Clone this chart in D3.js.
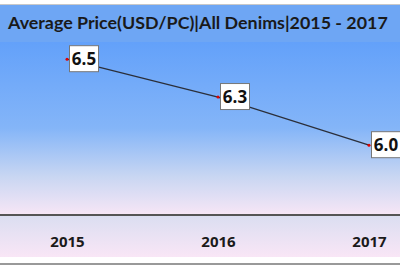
<!DOCTYPE html>
<html>
<head>
<meta charset="utf-8">
<script src="https://cdn.jsdelivr.net/npm/d3@7"></script>
<style>
  body { margin: 0; background: #fff; }
  svg { display: block; }
</style>
</head>
<body>
<div class="canvas"></div>
<script>
const years = ['2015', '2016', '2017'];
const prices = [6.5, 6.28, 6.0];
const title = 'Average Price(USD/PC)|All Denims|2015 - 2017';

const width = 400;
const height = 266;

const svg = d3
  .select('.canvas')
  .append('svg')
  .attr('width', width)
  .attr('height', height);

const defs = svg.append('defs');

// plot area gradient, blue to lavender pink
const plotGrad = defs
  .append('linearGradient')
  .attr('id', 'plotGrad')
  .attr('x1', 0).attr('x2', 0).attr('y1', 0).attr('y2', 1);
plotGrad.append('stop').attr('offset', '0%').attr('stop-color', '#63a1fa');
plotGrad.append('stop').attr('offset', '50%').attr('stop-color', '#84b5f8');
plotGrad.append('stop').attr('offset', '78%').attr('stop-color', '#c8d6f2');
plotGrad.append('stop').attr('offset', '100%').attr('stop-color', '#f6e6f6');

const axisGrad = defs
  .append('linearGradient')
  .attr('id', 'axisGrad')
  .attr('x1', 0).attr('x2', 0).attr('y1', 0).attr('y2', 1);
axisGrad.append('stop').attr('offset', '0%').attr('stop-color', '#dbdef1');
axisGrad.append('stop').attr('offset', '100%').attr('stop-color', '#f9e6f6');

//backgrounds
svg.append('line')
  .attr('x1', 0).attr('x2', width)
  .attr('y1', 4.5).attr('y2', 4.5)
  .attr('stroke', '#c8c8c8')
  .attr('stroke-width', 1);

svg.append('rect')
  .attr('x', 0).attr('y', 5)
  .attr('width', width).attr('height', 37)
  .attr('fill', '#6ea6f4');

svg.append('rect')
  .attr('x', 0).attr('y', 42)
  .attr('width', width).attr('height', 172)
  .attr('fill', 'url(#plotGrad)');

svg.append('rect')
  .attr('x', 0).attr('y', 216)
  .attr('width', width).attr('height', 41)
  .attr('fill', 'url(#axisGrad)');

svg.append('line')
  .attr('x1', 0).attr('x2', width)
  .attr('y1', 264).attr('y2', 264)
  .attr('stroke', '#999')
  .attr('stroke-width', 2);

//title, font size fitted so it spans about 380px
const titleText = svg.append('text')
  .attr('x', 8)
  .attr('y', 28.5)
  .attr('font-family', 'Lato, sans-serif')
  .attr('font-weight', 'bold')
  .attr('font-size', 18)
  .attr('fill', '#1a1a1a')
  .text(title);

const natural = titleText.node().getComputedTextLength();
if (natural > 0) {
  titleText.attr('font-size', Math.min(19, (18 * 380) / natural));
}

//scales
const x = d3.scalePoint().domain(years).range([67, 369]);
const y = d3.scaleLinear().domain([5.6, 6.6]).range([214, 42]);

//x axis
const xAxis = d3.axisBottom(x).tickSize(0).tickPadding(21);
const xAxisGroup = svg
  .append('g')
  .attr('transform', 'translate(0, 215)')
  .call(xAxis);

xAxisGroup.select('.domain').remove();
xAxisGroup
  .selectAll('text')
  .attr('font-family', 'Open Sans, sans-serif')
  .attr('font-weight', 'bold')
  .attr('font-size', 15)
  .attr('fill', '#1a1a1a');

svg.append('line')
  .attr('x1', 0).attr('x2', width)
  .attr('y1', 215).attr('y2', 215)
  .attr('stroke', '#555')
  .attr('stroke-width', 2);

//line
const data = years.map((yr, i) => ({ year: yr, price: prices[i] }));

const line = d3
  .line()
  .x((d) => x(d.year))
  .y((d) => y(d.price));

svg.append('path')
  .datum(data)
  .attr('fill', 'none')
  .attr('stroke', '#2b2f3a')
  .attr('stroke-width', 1.3)
  .attr('d', line);

svg.selectAll('circle')
  .data(data)
  .enter()
  .append('circle')
  .attr('cx', (d) => x(d.year))
  .attr('cy', (d) => y(d.price))
  .attr('r', 1.5)
  .attr('fill', '#e00000');

//data labels
const labels = svg
  .selectAll('.label')
  .data(data)
  .enter()
  .append('g')
  .attr('class', 'label')
  .attr('transform', (d) => `translate(${x(d.year) + 2.5}, ${y(d.price) - 13.5})`);

labels.append('rect')
  .attr('width', 29)
  .attr('height', 26)
  .attr('fill', '#fff')
  .attr('stroke', '#777')
  .attr('stroke-width', 1);

labels.append('text')
  .attr('x', 14.5)
  .attr('y', 19.5)
  .attr('text-anchor', 'middle')
  .attr('font-family', 'Open Sans, sans-serif')
  .attr('font-weight', 'bold')
  .attr('font-size', 17)
  .attr('fill', '#111')
  .text((d) => d.price.toFixed(1));
</script>
</body>
</html>
